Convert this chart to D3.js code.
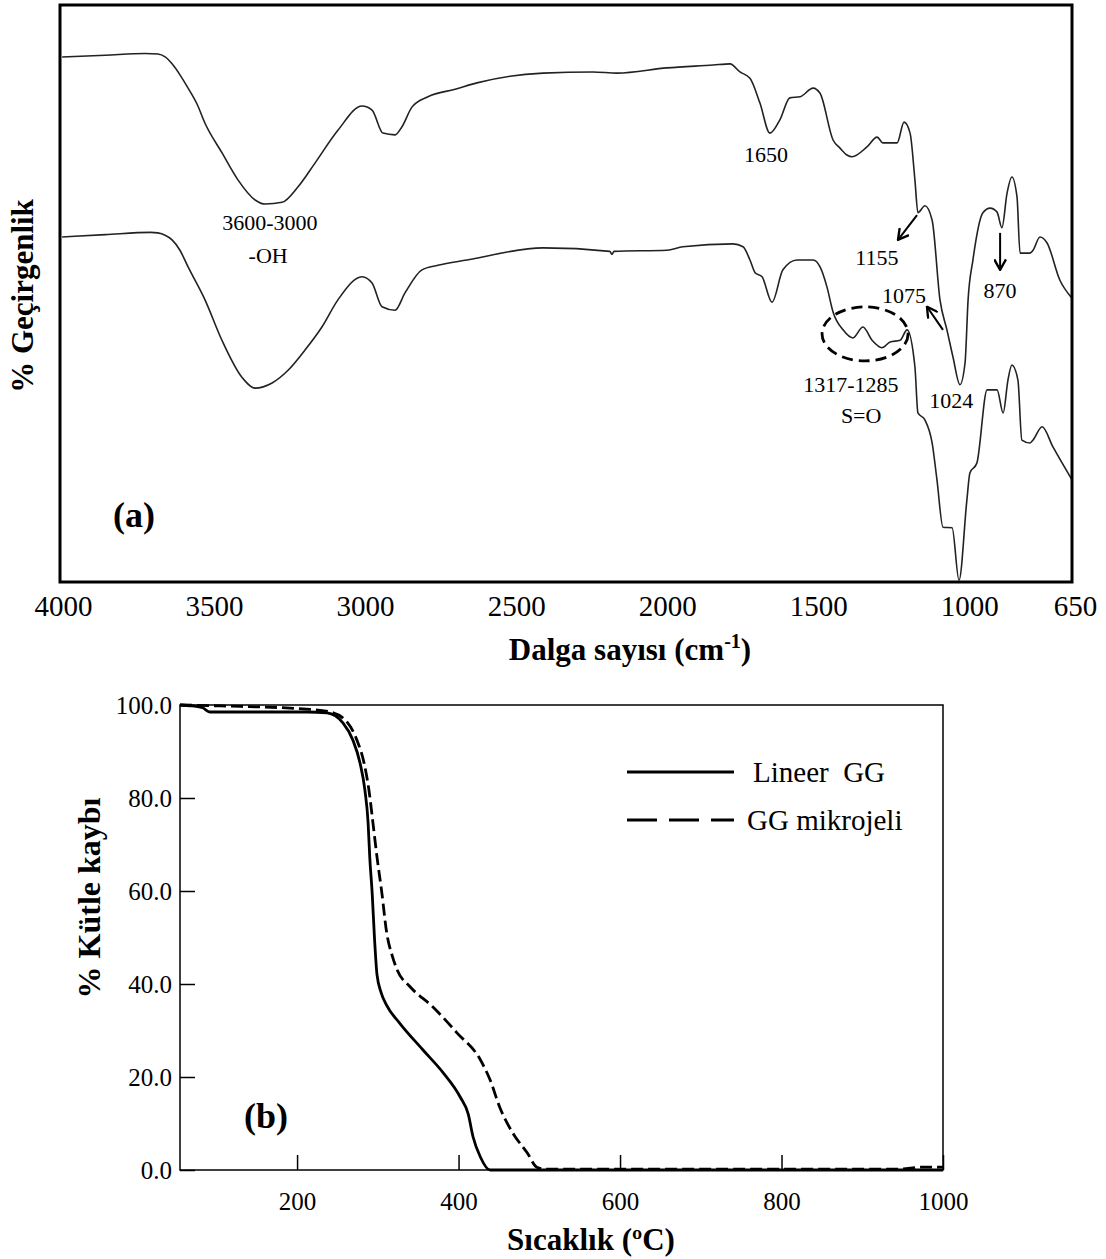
<!DOCTYPE html>
<html lang="tr">
<head>
<meta charset="utf-8">
<script src="https://d3js.org/d3.v7.min.js"></script>
<style>
    body { margin: 0; background: #fff; }
    svg text { font-family: "Liberation Serif", "Times New Roman", serif; fill: #000; }
</style>
</head>
<body>
<script>

    // ---------- (a) FTIR : [wavenumber cm-1, transmittance a.u.] ----------
    var ftirTicks = [4000, 3500, 3000, 2500, 2000, 1500, 1000, 650];

    var ftirLinear = [[3993, 91.0], [3850, 91.3], [3719, 91.6], [3676, 91.5], [3652, 91.0], [3629, 89.8],
        [3603, 87.9], [3576, 85.6], [3546, 82.8], [3520, 79.5],
        [3464, 74.4], [3411, 69.7], [3354, 66.2], [3321, 65.5], [3265, 65.8], [3212, 68.5], [3156, 72.6],
        [3080, 78.3], [3000, 82.5], [2967, 81.8], [2931, 77.8], [2891, 77.5], [2868, 78.9], [2835, 82.3],
        [2782, 84.1], [2692, 85.4], [2620, 86.5], [2401, 88.2], [2236, 88.4], [2156, 88.2], [1991, 89.1],
        [1838, 89.6], [1782, 89.8], [1749, 88.4], [1716, 87.3], [1683, 83.0], [1650, 77.8], [1617, 80.1],
        [1584, 83.9], [1550, 84.1], [1507, 85.6], [1484, 84.7], [1441, 76.6], [1418, 75.2], [1395, 74.0],
        [1378, 73.7], [1329, 75.4], [1295, 77.1], [1276, 76.1], [1229, 76.1], [1206, 79.7], [1186, 77.8],
        [1170, 69.7], [1160, 64.0], [1137, 65.2], [1113, 62.7], [1087, 48.9], [1064, 43.7], [1044, 39.0],
        [1021, 34.2], [1004, 38.0], [994, 48.9], [978, 55.8], [945, 64.0], [921, 64.8], [898, 64.1],
        [882, 61.4], [865, 67.4], [849, 70.2], [832, 66.7], [822, 57.0], [789, 57.0], [779, 57.5],
        [756, 59.8], [733, 58.8], [690, 52.3], [650, 49.2]];

    var ftirMicrogel = [[3993, 59.8], [3850, 60.2], [3700, 60.6], [3676, 60.5], [3652, 60.1], [3629, 59.3],
        [3603, 57.5], [3576, 54.6], [3520, 48.9], [3464, 41.9],
        [3398, 35.5], [3354, 33.6], [3298, 34.5], [3245, 36.7], [3189, 40.2], [3133, 44.2], [3080, 48.9],
        [3000, 52.9], [2967, 51.8], [2934, 47.7], [2891, 47.1], [2858, 50.1], [2802, 54.1], [2749, 54.9],
        [2653, 55.8], [2401, 57.9], [2180, 57.3], [2173, 56.8], [2166, 57.3], [1991, 57.5], [1938, 58.1],
        [1772, 58.6], [1739, 58.1], [1716, 55.8], [1699, 53.6], [1676, 52.9], [1643, 48.5], [1607, 54.1],
        [1560, 55.8], [1507, 55.8], [1484, 54.6], [1461, 51.1], [1441, 46.8], [1408, 43.7], [1375, 42.3],
        [1342, 44.2], [1312, 41.9], [1279, 40.6], [1252, 41.6], [1219, 41.9], [1196, 43.7], [1170, 37.3],
        [1160, 29.3], [1137, 28.1], [1113, 24.1], [1097, 17.7], [1077, 9.5], [1047, 9.4], [1024, 0.3],
        [998, 14.2], [988, 18.9], [965, 20.6], [931, 33.3], [898, 33.3], [878, 29.3], [862, 35.0],
        [849, 37.6], [829, 35.0], [816, 24.6], [789, 24.1], [779, 24.6], [749, 26.9], [713, 23.4], [650, 17.7]];

    // band labels: [text, wavenumber, transmittance]
    var ftirBands = [["1650", 1663, 72.8], ["3600-3000", 3305, 61.0], ["-OH", 3311, 55.3],
        ["1155", 1296, 54.9], ["1075", 1206, 48.4], ["870", 888, 49.2], ["1024", 1050, 30.2],
        ["1317-1285", 1382, 32.9], ["S=O", 1348, 27.6]];

    // arrows: [wn from, t from, wn to, t to]
    var ftirArrows = [[1163, 63.6, 1226, 59.3], [888, 60.5, 888, 54.1], [1077, 43.7, 1130, 47.7]];

    // ---------- (b) TGA : [temperature C, mass %] ----------
    var tgaTicksX = [200, 400, 600, 800, 1000];
    var tgaTicksY = [0, 20, 40, 60, 80, 100];
    var tgaSeries = ["Lineer  GG", "GG mikrojeli"];

    var tgaLinear = [[55, 100], [70, 99.8], [83, 99.4], [92, 98.5], [150, 98.5], [212, 98.5], [237, 98.3],
        [257, 96.1], [269, 92.5], [278, 87.5], [284, 81.7], [288, 74.6], [290, 67.3], [293, 59.6],
        [296, 49.5], [299, 42.0], [304, 38.2], [311, 35.4], [327, 31.6], [356, 25.8], [381, 20.9], [402, 15.7],
        [412, 12.0], [418, 7.1], [427, 2.8], [439, 0], [1000, 0]];

    var tgaMicrogel = [[55, 100], [105, 99.8], [212, 99.1], [241, 98.5], [262, 96.3], [274, 92.5],
        [283, 87.5], [289, 81.7], [294, 74.6], [299, 67.3], [305, 59.6], [311, 51.0], [318, 46.0], [324, 43.0],
        [340, 39.4], [368, 35.1], [398, 29.5], [427, 23.7], [439, 19.4], [451, 13.5], [467, 8.0],
        [485, 3.7], [497, 0.6], [507, 0.2], [947, 0.2], [972, 0.6], [1000, 0.6]];


    const svg = d3.select("body")
        .append("svg")
        .attr("width", 1106)
        .attr("height", 1259);

    svg.append("defs").append("marker")
        .attr("id", "arrowhead")
        .attr("viewBox", "0 0 10 10")
        .attr("refX", 9).attr("refY", 5)
        .attr("markerWidth", 13).attr("markerHeight", 13)
        .attr("markerUnits", "userSpaceOnUse")
        .attr("orient", "auto")
        .append("path")
        .attr("d", "M1,0.5 L9,5 L1,9.5")
        .attr("fill", "none")
        .attr("stroke", "#000")
        .attr("stroke-width", 1.8);

    // ===== panel (a) =====
    const xa = d3.scaleLinear().domain([4000, 650]).range([60, 1072]);
    const ya = d3.scaleLinear().domain([0, 100]).range([582, 5]);

    const specLine = d3.line()
        .x(function (d) { return xa(d[0]) })
        .y(function (d) { return ya(d[1]) })
        .curve(d3.curveMonotoneX);

    [ftirLinear, ftirMicrogel].forEach(function (s) {
        svg.append("path")
            .datum(s)
            .attr("fill", "none")
            .attr("stroke", "#222")
            .attr("stroke-width", 1.6)
            .attr("d", specLine);
    });

    svg.append("rect")
        .attr("x", 60).attr("y", 5)
        .attr("width", 1012).attr("height", 577)
        .attr("fill", "none")
        .attr("stroke", "#000")
        .attr("stroke-width", 3);

    svg.append("g")
        .attr("transform", "translate(0,582)")
        .call(d3.axisBottom(xa).tickValues(ftirTicks).tickSize(0).tickPadding(13).tickFormat(d3.format("d")))
        .attr("font-size", 29)
        .call(function (g) { g.select(".domain").remove(); g.selectAll("text").attr("dx", 3); });

    svg.selectAll(".band")
        .data(ftirBands)
        .enter()
        .append("text")
        .attr("x", function (d) { return xa(d[1]) })
        .attr("y", function (d) { return ya(d[2]) })
        .attr("text-anchor", "middle")
        .attr("font-size", 22)
        .text(function (d) { return d[0] });

    svg.selectAll(".arrow")
        .data(ftirArrows)
        .enter()
        .append("line")
        .attr("x1", function (d) { return xa(d[0]) })
        .attr("y1", function (d) { return ya(d[1]) })
        .attr("x2", function (d) { return xa(d[2]) })
        .attr("y2", function (d) { return ya(d[3]) })
        .attr("stroke", "#000")
        .attr("stroke-width", 2)
        .attr("marker-end", "url(#arrowhead)");

    // S=O region
    svg.append("ellipse")
        .attr("cx", xa(1335)).attr("cy", ya(43.0))
        .attr("rx", 43).attr("ry", 27)
        .attr("fill", "none")
        .attr("stroke", "#000")
        .attr("stroke-width", 2.8)
        .attr("stroke-dasharray", "11,6");

    svg.append("text")
        .attr("x", 134).attr("y", 527)
        .attr("text-anchor", "middle")
        .attr("font-size", 36).attr("font-weight", "bold")
        .text("(a)");

    const xaLabel = svg.append("text")
        .attr("x", 630).attr("y", 660)
        .attr("text-anchor", "middle")
        .attr("font-size", 31).attr("font-weight", "bold")
        .text("Dalga sayısı (cm");
    xaLabel.append("tspan").attr("dy", -12).attr("font-size", 20).text("-1");
    xaLabel.append("tspan").attr("dy", 12).text(")");

    svg.append("text")
        .attr("transform", "translate(33,296) rotate(-90)")
        .attr("text-anchor", "middle")
        .attr("font-size", 31).attr("font-weight", "bold")
        .text("% Geçirgenlik");

    // ===== panel (b) =====
    const xb = d3.scaleLinear().domain([55, 1000]).range([180, 943]);
    const yb = d3.scaleLinear().domain([0, 100]).range([1170, 705]);

    const tgaLine = d3.line()
        .x(function (d) { return xb(d[0]) })
        .y(function (d) { return yb(d[1]) })
        .curve(d3.curveMonotoneX);

    svg.append("rect")
        .attr("x", 180).attr("y", 705)
        .attr("width", 763).attr("height", 465)
        .attr("fill", "none")
        .attr("stroke", "#000")
        .attr("stroke-width", 1.5);

    svg.append("g")
        .attr("transform", "translate(0,1170)")
        .call(d3.axisBottom(xb).tickValues(tgaTicksX).tickSize(-15).tickPadding(22).tickFormat(d3.format("d")))
        .attr("font-size", 25)
        .call(function (g) { g.select(".domain").remove(); g.selectAll("line").attr("stroke-width", 1.5); });

    svg.append("g")
        .attr("transform", "translate(180,0)")
        .call(d3.axisLeft(yb).tickValues(tgaTicksY).tickSize(-15).tickPadding(8).tickFormat(d3.format(".1f")))
        .attr("font-size", 25)
        .call(function (g) { g.select(".domain").remove(); g.selectAll("line").attr("stroke-width", 1.5); });

    svg.append("path")
        .datum(tgaLinear)
        .attr("fill", "none")
        .attr("stroke", "#000")
        .attr("stroke-width", 2.8)
        .attr("d", tgaLine);

    svg.append("path")
        .datum(tgaMicrogel)
        .attr("fill", "none")
        .attr("stroke", "#000")
        .attr("stroke-width", 2.8)
        .attr("stroke-dasharray", "12,5")
        .attr("d", tgaLine);

    // legend
    var legend = svg.append("g");
    tgaSeries.forEach(function (name, i) {
        legend.append("line")
            .attr("x1", 627).attr("x2", 734)
            .attr("y1", 772 + i * 48).attr("y2", 772 + i * 48)
            .attr("stroke", "#000")
            .attr("stroke-width", 3)
            .attr("stroke-dasharray", i ? "30,12" : null);
        legend.append("text")
            .attr("x", i ? 747 : 753).attr("y", 782 + i * 48)
            .attr("font-size", 29)
            .attr("xml:space", "preserve")
            .style("white-space", "pre")
            .text(name);
    });

    svg.append("text")
        .attr("x", 266).attr("y", 1128)
        .attr("text-anchor", "middle")
        .attr("font-size", 36).attr("font-weight", "bold")
        .text("(b)");

    svg.append("text")
        .attr("x", 591).attr("y", 1250)
        .attr("text-anchor", "middle")
        .attr("font-size", 31).attr("font-weight", "bold")
        .text("Sıcaklık (ºC)");

    svg.append("text")
        .attr("transform", "translate(100,898) rotate(-90)")
        .attr("text-anchor", "middle")
        .attr("font-size", 32).attr("font-weight", "bold")
        .text("% Kütle kaybı");

</script>
</body>
</html>
